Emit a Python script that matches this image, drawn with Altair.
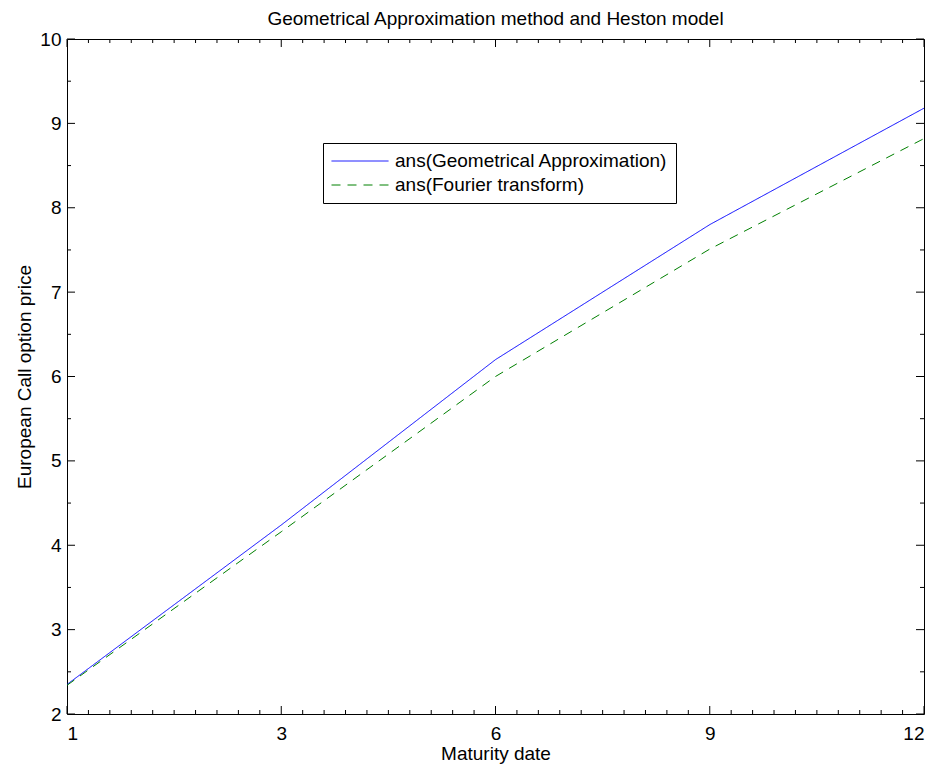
import altair as alt
import pandas as pd

# ---- data ----
maturity_labels = ["1", "3", "6", "9", "12"]
index = [1, 2, 3, 4, 5]
geo_values = [2.35, 4.24, 6.20, 7.80, 9.18]
fourier_values = [2.34, 4.16, 6.00, 7.51, 8.82]
series_names = ["ans(Geometrical Approximation)", "ans(Fourier transform)"]
series_colors = ["#0000ff", "#008000"]
series_dash = [[1, 0], [9, 7]]

x_major = [1, 2, 3, 4, 5]
x_minor = [round(1 + i / 10, 1) for i in range(41) if i % 10 != 0]
y_major = [2, 3, 4, 5, 6, 7, 8, 9, 10]
y_minor = [2.5, 3.5, 4.5, 5.5, 6.5, 7.5, 8.5, 9.5]

W, H = 857, 675
FONT = "Liberation Sans"
FS = 19

df = pd.DataFrame({
    "idx": index * 2,
    "price": geo_values + fourier_values,
    "series": [series_names[0]] * len(index) + [series_names[1]] * len(index),
})

label_expr = "[" + ",".join("'%s'" % s for s in maturity_labels) + "][datum.value - 1]"

xscale = alt.Scale(domain=[1, 5], nice=False, zero=False)
yscale = alt.Scale(domain=[2, 10], nice=False, zero=False)

xaxis = alt.Axis(values=x_major, labelExpr=label_expr, tickSize=0, domain=False,
                 grid=False, labelPadding=10, title="Maturity date",
                 titlePadding=1, labelFont=FONT, labelFontSize=FS,
                 labelColor="black", titleFont=FONT, titleFontSize=FS,
                 titleFontWeight="normal", titleColor="black")
yaxis = alt.Axis(values=y_major, format="d", tickSize=0, domain=False, grid=False,
                 labelPadding=6, title="European Call option price",
                 titlePadding=5, labelFont=FONT, labelFontSize=FS,
                 labelColor="black", titleFont=FONT, titleFontSize=FS,
                 titleFontWeight="normal", titleColor="black")

legend = alt.Legend(orient="none", legendX=256, legendY=104, title=None,
                    strokeColor="black", fillColor="white", padding=8,
                    symbolType="M-1,0H5", symbolSize=361, symbolStrokeWidth=1,
                    symbolFillColor="transparent",
                    labelLimit=0, rowPadding=4, labelOffset=44,
                    labelFont=FONT, labelFontSize=FS, labelColor="black")

lines = alt.Chart(df).mark_line(strokeWidth=1).encode(
    x=alt.X("idx:Q", scale=xscale, axis=xaxis),
    y=alt.Y("price:Q", scale=yscale, axis=yaxis),
    color=alt.Color("series:N",
                    scale=alt.Scale(domain=series_names, range=series_colors),
                    legend=legend),
    strokeDash=alt.StrokeDash("series:N",
                              scale=alt.Scale(domain=series_names, range=series_dash),
                              legend=legend),
    order="idx:Q",
)

def xticks(vals, length, top):
    d = pd.DataFrame({"t": vals})
    if top:
        y, y2 = alt.value(0), alt.value(length)
    else:
        y, y2 = alt.value(H), alt.value(H - length)
    return alt.Chart(d).mark_rule(color="black", strokeWidth=1).encode(
        x=alt.X("t:Q", scale=xscale, axis=xaxis), y=y, y2=y2)

def yticks(vals, length, right):
    d = pd.DataFrame({"t": vals})
    if right:
        x, x2 = alt.value(W), alt.value(W - length)
    else:
        x, x2 = alt.value(0), alt.value(length)
    return alt.Chart(d).mark_rule(color="black", strokeWidth=1).encode(
        y=alt.Y("t:Q", scale=yscale, axis=yaxis), x=x, x2=x2)

ticks = [
    xticks(x_major, 8, False), xticks(x_minor, 4, False),
    xticks(x_major, 8, True), xticks(x_minor, 4, True),
    yticks(y_major, 8, False), yticks(y_minor, 4, False),
    yticks(y_major, 8, True), yticks(y_minor, 4, True),
]

chart = alt.layer(lines, *ticks).properties(
    width=W, height=H,
    background="white",
    title=alt.Title("Geometrical Approximation method and Heston model",
                    font=FONT, fontSize=FS, fontWeight="normal", color="black",
                    anchor="middle", offset=1),
    autosize=alt.AutoSizeParams(type="none"),
    padding={"left": 59, "top": 31, "right": 7, "bottom": 55},
).configure_view(
    stroke="black", strokeWidth=1
)

chart.save("out.html", embed_options={"renderer": "svg", "actions": False})
